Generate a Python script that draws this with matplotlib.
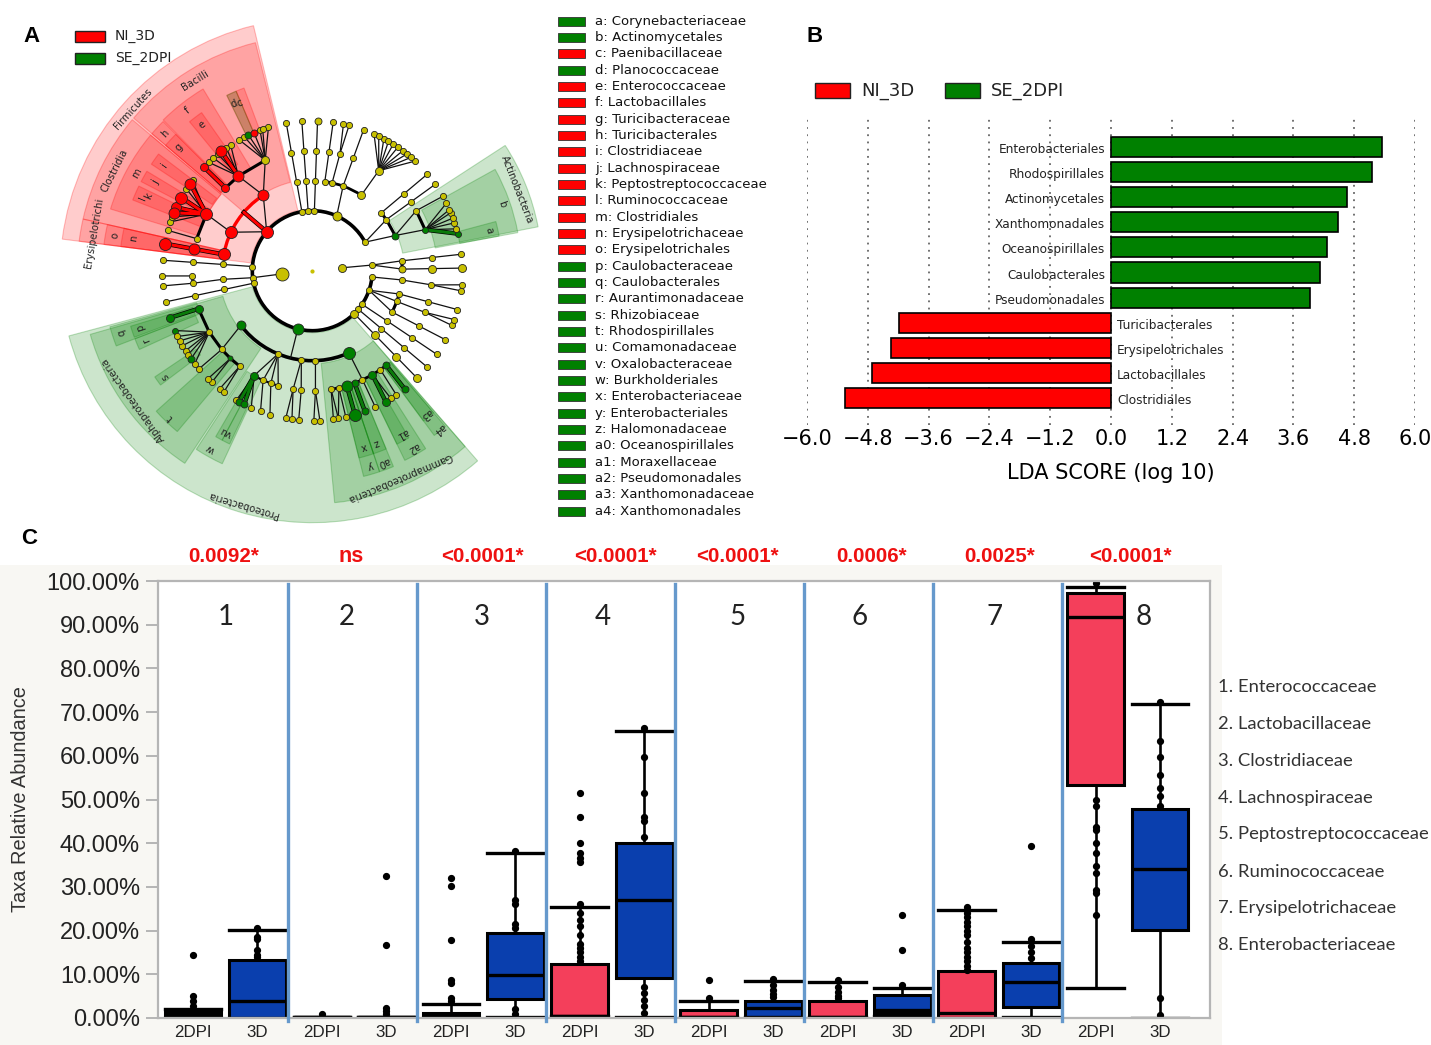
import numpy as np
import matplotlib
matplotlib.use("Agg")
import matplotlib.pyplot as plt
from matplotlib.patches import Wedge, Arc, Rectangle

W, H = 1431, 1045
RED = "#ff0000"
GREEN = "#008000"
YELLOW = "#c8c000"

# ---------- panel A: cladogram, angle in degrees and ring level ----------
red_wedges = [(103.5, 172.8, 62, 252), (104, 139.5, 91, 235), (140, 167.3, 119, 235),
              (167.3, 172.8, 88, 235), (140, 163, 119, 211), (121, 134.7, 120, 212),
              (135, 139.5, 120, 211), (135, 139.5, 120, 193), (125, 129.5, 130, 193),
              (142.8, 146.5, 120, 193), (149, 152.5, 120, 193), (154, 158.5, 120, 193),
              (167.3, 172.8, 88, 210), (167.3, 172.8, 88, 193), (110.5, 113, 148, 195),
              (113, 116, 148, 195)]
green_wedges = [(11, 33, 92, 230), (10.5, 29, 125, 209), (10.5, 15, 150, 190),
                (195, 311, 62, 252), (196, 236.5, 93, 231), (195.5, 201, 120, 210),
                (197, 200.5, 125, 190), (201, 204.5, 125, 190), (214, 217, 140, 190),
                (222, 230, 120, 210), (237, 245, 120, 213), (239.8, 242, 150, 192),
                (242, 244.5, 150, 192), (113, 116, 148, 195), (275.5, 311, 93, 233),
                (284, 288.5, 120, 212), (284, 288.5, 120, 193), (288.5, 292.5, 120, 212),
                (288.5, 292.5, 120, 193), (296, 302.5, 120, 211), (296, 300, 120, 193),
                (306.5, 310.5, 120, 205), (306.5, 310.5, 120, 187)]

clade_names = ["Firmicutes", "Bacilli", "Clostridia", "Erysipelotrichi", "Actinobacteria",
               "Alphaproteobacteria", "Proteobacteria", "Gammaproteobacteria"]
clade_angle = [137.9, 121.7, 153, 170.3, 21.5, 215.7, 253.6, 292.9]
clade_radius = [242, 223, 221.6, 221, 220, 221, 244, 225]

short_letters = ["a", "b", "c", "d", "e", "f", "g", "h", "i", "j", "k", "l", "m", "n", "o", "p", "q",
                 "r", "s", "t", "u", "v", "w", "x", "y", "z", "a0", "a1", "a2", "a3", "a4"]
letter_angle = [13, 19.4, 113.4, 115.2, 127, 128, 137.2, 137, 144.6, 150.7, 155.7, 157, 151, 169.7,
                169.8, 198.3, 198, 202.8, 215.7, 226, 241.2, 243, 240.2, 286.4, 286.7, 290.4,
                290.4, 298.8, 299.7, 308.4, 308.7]
letter_radius = [181, 201, 183, 184, 183, 203, 182, 201, 182, 180, 180, 184, 201, 181, 200, 181, 200,
                 180, 181, 204, 183, 183, 205, 183, 203, 184, 204, 186, 204, 183, 203]

ring_arcs = [(2, 28.4, 354, "black", 2.6), (3, 217.4, 294, "black", 2.6), (3, 57, 82, "black", 2),
             (3, 123, 169.6, RED, 2.4), (4, 279, 308, "black", 2), (4, 241, 253.5, "black", 1.6)]

# spokes run straight out along one angle: angle, first level, last level
spokes = [(100, 2, 5), (94, 2, 5), (88, 2, 5), (176, 2, 5), (192, 2, 5), (-45.7, 2, 5), (-40, 2, 5),
          (169.6, 3, 5), (40, 3, 5), (6.3, 3, 5), (1, 3, 5), (-27.4, 3, 5), (-33.9, 3, 5), (-15, 3, 5),
          (82, 3, 5), (70, 3, 5)]

# fans: parent angle, parent level, child angles one level further out
fans = [(186, 1, [186.7]), (5.6, 1, [5.4]), (186.7, 2, [185.5]), (185.5, 3, [186]), (186, 4, [185.8]),
        (182.5, 4, [182]), (-34, 2, [-33.9]), (-6, 2, [-5.9]), (-5.9, 3, [-6.8]), (-6.8, 4, [-5.4, -7.7]),
        (-19, 2, [-20, -15, -27.4]), (-20, 3, [-20.3]), (-20.3, 4, [-19, -21.4]),
        (5.4, 2, [6.3, 1]), (28.4, 2, [34.6, 23]), (34.6, 3, [34.9]), (34.9, 4, [35.1]),
        (23, 3, [20, 30]), (30, 4, [29.7]), (20, 4, [26.7, 24, 22.7, 20.5, 18.6, 16.2, 14.3]),
        (66, 2, [70]), (77.3, 3, [76.7]), (76.7, 4, [78, 75.8]), (57, 3, [56.4]),
        (56.4, 4, [65.7, 63.7, 61.5, 59.5, 57.4, 55.3, 53, 51, 49, 46.9]),
        (139.5, 2, [123, 154.7]), (123, 3, [128, 113.1]), (154.7, 3, [151.9]),
        (128, 4, [133.7, 131.3, 129, 127.3, 125, 123]), (136.4, 4, [136.3]), (164.5, 4, [164.4]),
        (113.1, 4, [119.2, 116.9, 115.2, 112.9, 110.4, 109.3, 107]),
        (151.9, 4, [144.5, 150.8, 155, 157.3, 161, 159, 143, 147]),
        (294, 3, [294.7]), (294.7, 4, [294.8]), (279, 4, [278.1, 280]), (282.8, 4, [280, 282.9]),
        (286.7, 4, [286.5]), (290.6, 4, [290.5]), (300, 4, [299.3, 301.6]), (304.5, 4, [304.1]),
        (308, 4, [308]), (272, 3, [271.5]), (271.5, 4, [270.6, 272.9]), (263, 3, [264.7, 260.8]),
        (264.7, 4, [264.8]), (260.8, 4, [259.8, 262.2]), (247.6, 3, [241, 245.8, 249.8, 253.5]),
        (241, 4, [239.6, 240.8, 243, 246]), (245.8, 4, [249.8]), (249.8, 4, [253.6]),
        (217.4, 3, [221]), (198.5, 4, [198.3]),
        (210.8, 4, [203.5, 206, 207.9, 210, 212.3, 214, 216, 218.4]), (221, 4, [220.9]),
        (227, 4, [226, 228]), (232.8, 4, [231.9, 233.9])]

thin_stems = [((256, 2), (256, 3))]
black_edges = [((128, 4), (136.4, 4)), ((128, 4), (113.1, 4)), ((151.9, 4), (164.5, 4)), ((40, 3), (34.6, 3)),
               ((34.6, 3), (23, 3)), ((30, 4), (20, 4)), ((6.3, 3), (1, 3)), ((-15, 3), (-20, 3)),
               ((-20, 3), (-27.4, 3)), ((182.5, 4), (186, 4)), ((198.5, 4), (210.8, 4)), ((210.8, 4), (221, 4)),
               ((221, 4), (227, 4)), ((227, 4), (232.8, 4))]
red_edges = [((139.5, 2), (139.5, 3)), ((128, 4), (127.3, 5)), ((136.4, 4), (136.3, 5)), ((151.9, 4), (144.5, 5)),
             ((151.9, 4), (150.8, 5)), ((151.9, 4), (155, 5)), ((151.9, 4), (157.3, 5)),
             ((169.6, 3), (169.6, 4)), ((169.6, 4), (169.6, 5))]
green_edges = [((20, 4), (14.3, 5)), ((198.5, 4), (198.3, 5)), ((241, 4), (240.8, 5)), ((241, 4), (243, 5)),
               ((286.7, 4), (286.5, 5)), ((290.6, 4), (290.5, 5)), ((300, 4), (299.3, 5)), ((308, 4), (308, 5))]

extra_nodes = [(66, 2), (256, 2), (139.5, 2), (217.4, 3), (272, 3), (263, 3), (247.6, 3), (294, 3), (82, 3),
               (57, 3), (77.3, 3), (169.6, 3), (198.5, 4), (227, 4), (232.8, 4), (279, 4), (282.8, 4),
               (304.5, 4), (300, 4), (308, 4), (290.6, 4), (286.7, 4), (221, 4), (210.8, 4), (186, 4), (182.5, 4),
               (253.5, 4), (249.8, 4), (245.8, 4)]

red_nodes = {(139.5, 2): 12, (123, 3): 11, (154.7, 3): 12, (169.6, 3): 12, (128, 4): 11, (136.4, 4): 8,
             (151.9, 4): 12, (169.6, 4): 11, (169.6, 5): 12, (136.3, 5): 8, (127.3, 5): 11, (144.5, 5): 11,
             (150.8, 5): 12, (155, 5): 10, (157.3, 5): 11, (112.9, 5): 7}
green_nodes = {(256, 2): 11, (294, 3): 12, (217.4, 3): 9, (23, 3): 7, (20, 4): 6, (14.3, 5): 6, (198.5, 4): 8,
               (198.3, 5): 8, (203.5, 5): 6, (216, 5): 7, (227, 4): 5, (241, 4): 8, (240.8, 5): 7, (243, 5): 7,
               (286.7, 4): 11, (290.6, 4): 7, (286.5, 5): 12, (290.5, 5): 7, (300, 4): 8, (299.3, 5): 8,
               (308, 4): 7, (308, 5): 7, (115.2, 5): 7}
big_yellow = {(186, 1): 13, (5.6, 1): 8, (66, 2): 9, (57, 3): 8, (56.4, 4): 8, (113.1, 4): 8, (-45.7, 2): 8,
              (-45.7, 3): 8, (-45.7, 4): 8, (-45.7, 5): 8, (88, 5): 7, (1, 3): 7, (1, 4): 8, (1, 5): 8}

taxa_names = ["a: Corynebacteriaceae", "b: Actinomycetales", "c: Paenibacillaceae", "d: Planococcaceae",
              "e: Enterococcaceae", "f: Lactobacillales", "g: Turicibacteraceae", "h: Turicibacterales",
              "i: Clostridiaceae", "j: Lachnospiraceae", "k: Peptostreptococcaceae", "l: Ruminococcaceae",
              "m: Clostridiales", "n: Erysipelotrichaceae", "o: Erysipelotrichales", "p: Caulobacteraceae",
              "q: Caulobacterales", "r: Aurantimonadaceae", "s: Rhizobiaceae", "t: Rhodospirillales",
              "u: Comamonadaceae", "v: Oxalobacteraceae", "w: Burkholderiales", "x: Enterobacteriaceae",
              "y: Enterobacteriales", "z: Halomonadaceae", "a0: Oceanospirillales", "a1: Moraxellaceae",
              "a2: Pseudomonadales", "a3: Xanthomonadaceae", "a4: Xanthomonadales"]
taxa_groups = list("GGRGRRRRRRRRRRRGGGGGGGGGGGGGGGG")

# ---------- panel B ----------
lda_names = ["Enterobacteriales", "Rhodospirillales", "Actinomycetales", "Xanthomonadales", "Oceanospirillales",
             "Caulobacterales", "Pseudomonadales", "Turicibacterales", "Erysipelotrichales", "Lactobacillales",
             "Clostridiales"]
lda_scores = [5.35, 5.15, 4.66, 4.48, 4.26, 4.13, 3.93, -4.18, -4.34, -4.72, -5.25]
lda_ticks = [-6.0, -4.8, -3.6, -2.4, -1.2, 0.0, 1.2, 2.4, 3.6, 4.8, 6.0]

# ---------- panel C: two boxes per family ----------
box_labels = ["2DPI", "3D"] * 8
q1_vals = [0, 0, 0.3, 0.3, 0, 4.3, 0.5, 9.1, 0.2, 0.3, 0.2, 1.1, 0, 2.5, 53.4, 20.2]
med_vals = [1.0, 4.0, 0.3, 0.3, 0.5, 9.8, 0.5, 26.9, 0.3, 2.3, 0.3, 1.9, 1.1, 8.2, 91.8, 34.1]
q3_vals = [2.1, 13.3, 0.3, 0.3, 1.2, 19.4, 12.3, 40.0, 1.9, 4.0, 4.0, 5.3, 10.7, 12.7, 97.3, 47.8]
lo_vals = [0, 0, 0.3, 0.3, 0, 0.3, 0.5, 0.3, 0.2, 0.3, 0.2, 0.4, 0, 0.3, 6.9, 0]
hi_vals = [2.1, 20.2, 0.3, 0.3, 3.3, 37.7, 25.5, 65.6, 4.0, 8.5, 8.2, 6.9, 24.8, 17.3, 98.6, 71.9]
flier_vals = [
    [14.5, 5.1, 3.8, 2.8], [20.7, 18.5, 18, 15.5, 14.5, 14],
    [1.0], [32.4, 16.8, 2.2, 1.5, 1.0],
    [32, 30.3, 17.8, 8.8, 8, 4.6, 3.8], [38.2, 27, 26, 21.5, 20.5, 2, 1],
    [51.4, 46, 40, 37.7, 36.6, 35.6, 26, 24, 22.5, 21, 19, 17, 16, 15, 14, 13],
    [66.3, 59.8, 51.4, 46, 45, 41.5, 7.2, 5.7, 4.2, 2.7, 1.1],
    [8.8, 4.6], [8.9, 7.5, 6.5, 5.5, 4.8],
    [8.6, 7, 6, 5, 4.5], [23.6, 15.6, 7.5],
    [25.3, 24, 23, 22, 21, 20, 19, 17.5, 16, 15, 14, 13, 12, 11], [39.3, 18, 16.4, 15.2, 13.7],
    [99.6, 49.9, 48.4, 43.8, 43, 40, 37.7, 34.7, 33.2, 29.3, 28.6, 23.6],
    [72.4, 63.3, 59.8, 55.6, 52.6, 50.7, 48.4, 4.6, 0.8],
]
box_fills = ["black", "#0a3fae", "#f43f5b", "#0a3fae", "black", "#0a3fae", "#f43f5b", "#0a3fae",
             "#f43f5b", "#0a3fae", "#f43f5b", "#0a3fae", "#f43f5b", "#0a3fae", "#f43f5b", "#0a3fae"]
p_labels = ["0.0092*", "ns", "<0.0001*", "<0.0001*", "<0.0001*", "0.0006*", "0.0025*", "<0.0001*"]
p_x = [224, 351, 482, 615, 737, 872, 1000, 1130]
group_x = [226, 347, 482, 603, 738, 860, 995, 1144]
family_names = ["1. Enterococcaceae", "2. Lactobacillaceae", "3. Clostridiaceae", "4. Lachnospiraceae",
                "5. Peptostreptococcaceae", "6. Ruminococcaceae", "7. Erysipelotrichaceae", "8. Enterobacteriaceae"]
family_y = [687, 724, 761, 798, 834, 872, 908, 945]


def ax_px(left, top, right, bottom):
    return fig.add_axes([left / W, 1 - bottom / H, (right - left) / W, (bottom - top) / H])


def polar(angle, radius):
    t = np.radians(angle)
    return radius * np.cos(t), radius * np.sin(t)


def node_xy(node):
    return polar(node[0], node[1] * 30)


def px(n):
    # pixels to points at 100 dpi
    return n * 0.72


fig = plt.figure(figsize=(W / 100, H / 100), dpi=100)

page = ax_px(0, 0, W, H)
page.set_xlim(0, W)
page.set_ylim(H, 0)
page.axis("off")
page.set_zorder(-1)
page.add_patch(Rectangle((0, 565), 1222, 480, color="#f8f7f3", lw=0))

for letter, x, y in [("A", 31, 36), ("B", 815, 36), ("C", 29, 539)]:
    page.text(x, y, letter, fontsize=16, fontweight="bold", family="Liberation Sans", ha="center", va="center")

# legend and letter key of the cladogram
for name, col, y in [("NI_3D", RED, 36), ("SE_2DPI", GREEN, 58)]:
    page.add_patch(Rectangle((75, y - 5.5), 30, 11, fc=col, ec="#222222", lw=1))
    page.text(115, y, name, fontsize=10, va="center", color="#222222")

for i, (name, grp) in enumerate(zip(taxa_names, taxa_groups)):
    y = 21 + i * 16.34
    page.add_patch(Rectangle((558, y - 4.5), 27, 9, fc=RED if grp == "R" else GREEN, ec="#333333", lw=0.6))
    page.text(595, y, name, fontsize=9.5, va="center", color="#111111")

# panel A
clad = ax_px(312.3 - 260, 270.7 - 260, 312.3 + 260, 270.7 + 260)
clad.set_xlim(-260, 260)
clad.set_ylim(-260, 260)
clad.axis("off")
for col, wedges in [(RED, red_wedges), (GREEN, green_wedges)]:
    rgb = matplotlib.colors.to_rgb(col)
    for t1, t2, r1, r2 in wedges:
        clad.add_patch(Wedge((0, 0), r2, t1, t2, width=r2 - r1, fc=rgb + (0.2,), ec=rgb + (0.25,), lw=0.8, zorder=1))

for name, ang, rad in zip(clade_names, clade_angle, clade_radius):
    x, y = polar(ang, rad)
    clad.text(x, y, name, fontsize=7.2, rotation=ang - 90, rotation_mode="anchor", ha="center", va="center",
              color="#222222", zorder=2)
for name, ang, rad in zip(short_letters, letter_angle, letter_radius):
    x, y = polar(ang, rad)
    clad.text(x, y, name, fontsize=7.2, rotation=ang - 90, rotation_mode="anchor", ha="center", va="center",
              color="#222222", zorder=2)

for level, t1, t2, col, lw in ring_arcs:
    d = level * 60
    clad.add_patch(Arc((0, 0), d, d, theta1=t1, theta2=t2, color=col, lw=lw, zorder=3))

nodes = set(extra_nodes)
segments = list(thin_stems)
for ang, first, last in spokes:
    for lev in range(first, last):
        segments.append(((ang, lev), (ang, lev + 1)))
        nodes.update([(ang, lev), (ang, lev + 1)])
for ang, lev, children in fans:
    nodes.add((ang, lev))
    for c in children:
        segments.append(((ang, lev), (c, lev + 1)))
        nodes.add((c, lev + 1))

for a, b in segments:
    xa, ya = node_xy(a)
    xb, yb = node_xy(b)
    clad.plot([xa, xb], [ya, yb], color="#111111", lw=0.9, zorder=3)
for edges, col in [(black_edges, "black"), (red_edges, RED), (green_edges, "#0a7a0a")]:
    for a, b in edges:
        xa, ya = node_xy(a)
        xb, yb = node_xy(b)
        clad.plot([xa, xb], [ya, yb], color=col, lw=2.2, zorder=3.5, solid_capstyle="round")
        if col != "black":
            clad.plot([xa, xb], [ya, yb], color="black", lw=3.2, zorder=3.4)

for node in nodes:
    x, y = node_xy(node)
    if node in red_nodes:
        col, size = RED, red_nodes[node]
    elif node in green_nodes:
        col, size = GREEN, green_nodes[node]
    else:
        col, size = YELLOW, big_yellow.get(node, 6.2)
    clad.scatter([x], [y], s=px(size) ** 2, c=col, edgecolors="#222222", linewidths=0.6,
                 zorder=4 + size / 100)
clad.scatter([0], [0], s=4, c=YELLOW, zorder=4)

# panel B
lda = ax_px(807, 118, 1415, 425)
lda.set_xlim(-6, 6)
lda.set_ylim((425 - 147) / 25.1, (118 - 147) / 25.1)
ypos = np.arange(len(lda_scores))
for y, s, name in zip(ypos, lda_scores, lda_names):
    lda.barh(y, s, height=0.8, color=GREEN if s > 0 else RED, edgecolor="black", lw=1.2, zorder=3)
    if s > 0:
        lda.text(-0.12, y + 0.1, name, ha="right", va="center", fontsize=8.7, color="#222222", zorder=4)
    else:
        lda.text(0.12, y + 0.1, name, ha="left", va="center", fontsize=8.7, color="#222222", zorder=4)
lda.set_xticks(lda_ticks)
lda.set_xticklabels([f"{t:.1f}".replace("-", "\u2212") for t in lda_ticks], fontsize=15)
lda.set_yticks([])
lda.tick_params(axis="x", length=0, pad=3)
lda.grid(axis="x", linestyle=(0, (1, 3)), color="#666666", lw=1.3)
lda.set_xlabel("LDA SCORE (log 10)", fontsize=15, labelpad=10)
lda.patch.set_alpha(0)
for sp in lda.spines.values():
    sp.set_visible(False)

for name, col, x0 in [("NI_3D", RED, 815), ("SE_2DPI", GREEN, 945)]:
    page.add_patch(Rectangle((x0, 83), 35, 15, fc=col, ec="#222222", lw=1))
    page.text(x0 + 46, 91, name, fontsize=13, va="center", color="#222222")

# panel C
box = ax_px(158, 581, 1210, 1018)
box.set_xlim((158 - 193) / 64.47, (1210 - 193) / 64.47)
box.set_ylim(0, 100)
stats = []
for i in range(len(box_labels)):
    stats.append({"label": box_labels[i], "q1": q1_vals[i], "med": med_vals[i], "q3": q3_vals[i],
                  "whislo": lo_vals[i], "whishi": hi_vals[i], "fliers": flier_vals[i]})
art = box.bxp(stats, positions=np.arange(16), widths=0.88, capwidths=0.88, patch_artist=True,
              boxprops=dict(lw=2.2, edgecolor="black"),
              medianprops=dict(color="black", lw=2.4),
              whiskerprops=dict(color="black", lw=1.9),
              capprops=dict(color="black", lw=2.4),
              flierprops=dict(marker="o", markerfacecolor="black", markeredgecolor="black", markersize=4.2))
for patch, fill in zip(art["boxes"], box_fills):
    patch.set_facecolor(fill)
for k in range(7):
    box.plot([1.475 + 2 * k] * 2, [99.3, -0.8], color="#6699cc", lw=2.4, clip_on=False, zorder=5)
box.set_xlim((158 - 193) / 64.47, (1210 - 193) / 64.47)
box.set_yticks(np.arange(0, 101, 10))
box.set_yticklabels([f"{t:.2f}%" for t in np.arange(0, 101, 10)], fontsize=17, family="Liberation Sans",
                    color="#222222")
box.set_xticks(np.arange(16))
box.set_xticklabels(box_labels, fontsize=12.2, family=["Liberation Sans Narrow", "Liberation Sans"], color="#222222")
box.tick_params(axis="x", length=0, pad=5)
box.tick_params(axis="y", length=9, width=1.4, color="#b5b5b5", pad=4)
for sp in box.spines.values():
    sp.set_color("#b5b5b5")
    sp.set_linewidth(1.6)

page.text(21, 799, "Taxa Relative Abundance", rotation=90, fontsize=14.4, family="Liberation Sans",
          ha="center", va="center", color="#333333")
for label, x in zip(p_labels, p_x):
    page.text(x, 556 if label != "ns" else 557, label, color="#ee1111", fontweight="bold",
              fontsize=14.8 if label != "ns" else 15.5, family="Liberation Sans", ha="center", va="center")
for k, x in enumerate(group_x):
    fig.text(x / W, 1 - 617 / H, str(k + 1), fontsize=20, family="Lato", ha="center", va="center", color="#222222")
for name, y in zip(family_names, family_y):
    page.text(1218, y, name, fontsize=13.3, family="Lato", va="center", color="#333333")

fig.savefig("out.png", dpi=100)
